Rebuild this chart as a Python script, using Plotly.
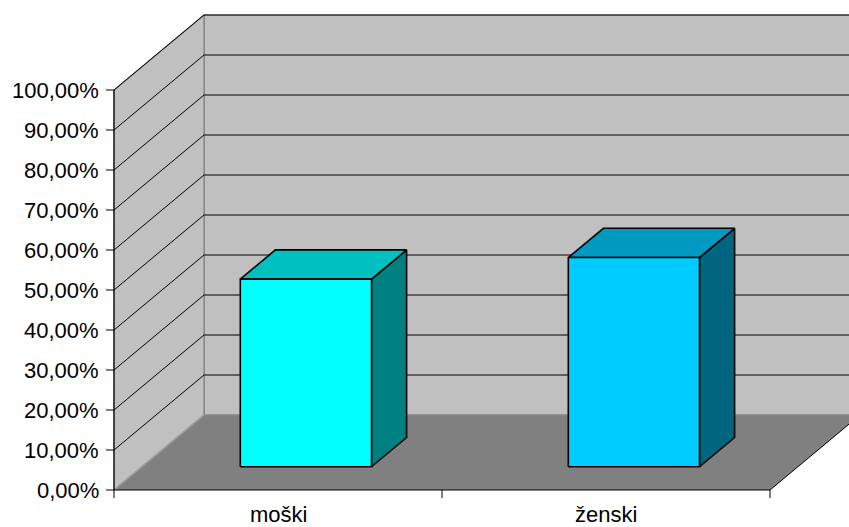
import plotly.graph_objects as go

# Data
categories = ["moški", "ženski"]
values = [46.9, 52.3]          # percent
y_ticks = [0, 10, 20, 30, 40, 50, 60, 70, 80, 90, 100]
y_tick_labels = [f"{t},00%" for t in y_ticks]

# Colours per bar: front, top, side
front_colors = ["#00FFFF", "#00CCFF"]
top_colors = ["#00C0C0", "#0099C0"]
side_colors = ["#008080", "#006680"]

# 3D oblique projection (x in category units, y in percent)
W, H = 849, 527
X0_PX, PX_PER_CAT = 114, 328
Y0_PX, PX_PER_PCT = 490, 4.0
DX = 90 / PX_PER_CAT          # full depth shift in x
DY = 75 / PX_PER_PCT          # full depth shift in y
BAR_W = 0.4
DEPTH_FRONT, DEPTH_BACK = 0.31, 0.70

x_range = [-X0_PX / PX_PER_CAT, (W - X0_PX) / PX_PER_CAT]
y_range = [(Y0_PX - H) / PX_PER_PCT, Y0_PX / PX_PER_PCT]

fig = go.Figure()


def poly(xs, ys, fill, line_color, line_width=1.0):
    fig.add_trace(go.Scatter(
        x=list(xs) + [xs[0]], y=list(ys) + [ys[0]],
        mode="lines", fill="toself", fillcolor=fill,
        line=dict(color=line_color, width=line_width),
        hoverinfo="skip", showlegend=False))


def line(xs, ys, color, width=1.0):
    fig.add_trace(go.Scatter(
        x=xs, y=ys, mode="lines", line=dict(color=color, width=width),
        hoverinfo="skip", showlegend=False))


n = len(categories)

# Back wall and side wall
poly([DX, n + DX, n + DX, DX], [DY, DY, 100 + DY, 100 + DY], "#C0C0C0", "#808080", 1.2)
poly([0, DX, DX, 0], [0, DY, 100 + DY, 100], "#C0C0C0", "#808080", 1.2)

# Gridlines on the walls
for t in y_ticks[1:]:
    line([0, DX, n + DX], [t, t + DY, t + DY], "#000000", 1.0)

# Floor
poly([0, n, n + DX, DX], [0, 0, DY, DY], "#808080", "rgba(0,0,0,0)", 0)
line([DX, n + DX], [DY, DY], "#8C8C8C", 1.2)
line([0, DX], [0, DY], "#A0A0A0", 1.2)
line([n, n + DX], [0, DY], "#000000", 1.0)

# Bars
for i, v in enumerate(values):
    xl = i + 0.5 - BAR_W / 2 + DEPTH_FRONT * DX
    xr = xl + BAR_W
    yb = DEPTH_FRONT * DY
    yt = yb + v
    ddx = (DEPTH_BACK - DEPTH_FRONT) * DX
    ddy = (DEPTH_BACK - DEPTH_FRONT) * DY
    # side face
    poly([xr, xr + ddx, xr + ddx, xr], [yb, yb + ddy, yt + ddy, yt], side_colors[i], "#000000", 1.6)
    # top face
    poly([xl, xr, xr + ddx, xl + ddx], [yt, yt, yt + ddy, yt + ddy], top_colors[i], "#000000", 1.6)
    # front face
    poly([xl, xr, xr, xl], [yb, yb, yt, yt], front_colors[i], "#000000", 1.6)

# Value axis line and ticks
tick_dx = 8 / PX_PER_CAT
line([0, 0], [0, 100], "#000000", 1.2)
for t in y_ticks:
    line([-tick_dx, 0], [t, t], "#000000", 1.0)

# Category axis line and ticks
tick_dy = 8 / PX_PER_PCT
line([0, n], [0, 0], "#000000", 1.2)
for k in range(n + 1):
    line([k, k], [0, -tick_dy], "#000000", 1.0)

val_font = dict(family="Liberation Sans, Arial, sans-serif", size=22, color="#000000")
cat_font = dict(family="Liberation Sans, Arial, sans-serif", size=22, color="#000000")
annotations = []
for t, lab in zip(y_ticks, y_tick_labels):
    annotations.append(dict(x=0, y=t, xref="x", yref="y", text=lab, showarrow=False,
                            xanchor="right", yanchor="middle", xshift=-13, font=val_font))
for i, c in enumerate(categories):
    annotations.append(dict(x=i + 0.5, y=0, xref="x", yref="y", text=c, showarrow=False,
                            xanchor="center", yanchor="middle", yshift=-24, borderpad=0,
                            font=cat_font))

fig.update_layout(
    width=W, height=H,
    margin=dict(l=0, r=0, t=0, b=0),
    paper_bgcolor="#FFFFFF", plot_bgcolor="#FFFFFF",
    xaxis=dict(range=x_range, visible=False, fixedrange=True),
    yaxis=dict(range=y_range, visible=False, fixedrange=True),
    annotations=annotations,
    showlegend=False,
)

fig.write_html("out.html")
